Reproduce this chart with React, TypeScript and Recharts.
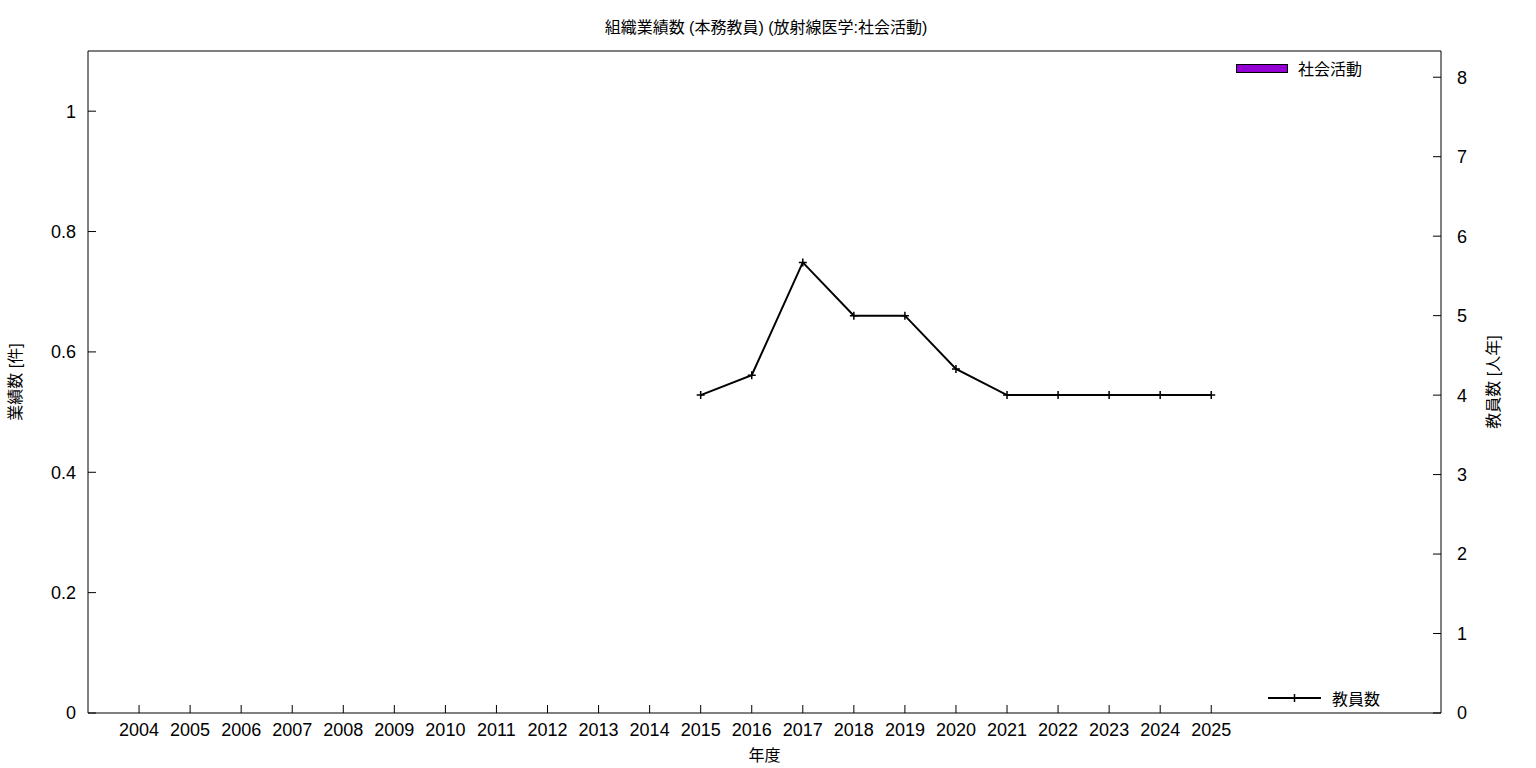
import { ComposedChart, Bar, Line, XAxis, YAxis, Legend, Label } from 'recharts';

const years = [
  2004, 2005, 2006, 2007, 2008, 2009, 2010, 2011, 2012, 2013, 2014,
  2015, 2016, 2017, 2018, 2019, 2020, 2021, 2022, 2023, 2024, 2025,
];
// 社会活動 (件) – nothing recorded in any year
const socialActivity = [0, 0, 0, 0, 0, 0, 0, 0, 0, 0, 0, 0, 0, 0, 0, 0, 0, 0, 0, 0, 0, 0];
// 教員数 (人年)
const teachers = [
  null, null, null, null, null, null, null, null, null, null, null,
  4, 4.25, 5.67, 5, 5, 4.33, 4, 4, 4, 4, 4,
];
const leftTicks = [0, 0.2, 0.4, 0.6, 0.8, 1];
const rightTicks = [0, 1, 2, 3, 4, 5, 6, 7, 8];

const data = years.map((year, i) => ({
  year,
  social: socialActivity[i],
  teachers: teachers[i],
}));

const FONT = "'Liberation Sans', 'Noto Sans CJK JP', sans-serif";
const tickStyle = { fontSize: 18, fill: '#000', fontFamily: FONT };

const PlusDot = (props: any) => {
  const { cx, cy, index } = props;
  if (cx == null || cy == null || props.value == null) return <g key={`d${index}`} />;
  return (
    <path
      key={`d${index}`}
      d={`M${cx - 4},${cy}h8M${cx},${cy - 4}v8`}
      stroke="#000"
      strokeWidth={1.5}
      fill="none"
    />
  );
};

const renderLegend = (props: any) => {
  const payload = props.payload || [];
  return (
    <div style={{ position: 'relative', width: 1536, height: 768, fontFamily: FONT, fontSize: 16 }}>
      {payload.map((item: any) =>
        item.dataKey === 'social' ? (
          <div key="social" style={{ position: 'absolute', left: 1236, top: 56, display: 'flex', alignItems: 'center' }}>
            <span style={{ display: 'inline-block', width: 50, height: 7, background: '#9400d3', border: '1px solid #000' }} />
            <span style={{ marginLeft: 10 }}>{item.value}</span>
          </div>
        ) : (
          <div key="teachers" style={{ position: 'absolute', left: 1268, top: 686, display: 'flex', alignItems: 'center' }}>
            <svg width={53} height={12}>
              <path d="M0,6h53" stroke="#000" strokeWidth={2} />
              <path d="M26.5,2v8" stroke="#000" strokeWidth={1.5} />
            </svg>
            <span style={{ marginLeft: 11 }}>{item.value}</span>
          </div>
        )
      )}
    </div>
  );
};

const verticalTitle = (text: string, dx: number) => (p: any) => {
  const vb = p.viewBox;
  const x = vb.x + dx;
  const y = vb.y + vb.height / 2;
  return (
    <text x={x} y={y} transform={`rotate(-90,${x},${y})`} textAnchor="middle" dominantBaseline="central" fontSize={16} fontFamily={FONT} fill="#000">
      {text}
    </text>
  );
};

export default function App() {
  return (
    <div style={{ position: 'absolute', left: 0, top: 0, width: 1536, height: 768, background: '#fff' }}>
      <div
        style={{
          position: 'absolute',
          left: 0,
          top: 14,
          width: 1532,
          textAlign: 'center',
          fontFamily: FONT,
          fontSize: 16,
          color: '#000',
        }}
      >
        組織業績数 (本務教員) (放射線医学:社会活動)
      </div>
      <ComposedChart
        width={1536}
        height={768}
        data={data}
        margin={{ top: 21, right: 0, bottom: 0, left: 0 }}
      >
        <XAxis
          dataKey="year"
          type="number"
          domain={[2003, 2029.5]}
          allowDataOverflow
          ticks={years}
          interval={0}
          height={55}
          stroke="#000"
          tickSize={-8}
          tickMargin={18}
          tick={tickStyle}
        >
          <Label
            content={(p: any) => {
              const vb = p.viewBox;
              return (
                <text x={vb.x + vb.width / 2} y={vb.y + 42} textAnchor="middle" dominantBaseline="central" fontSize={16} fontFamily={FONT} fill="#000">
                  年度
                </text>
              );
            }}
          />
        </XAxis>
        <XAxis
          xAxisId="top"
          dataKey="year"
          type="number"
          orientation="top"
          domain={[2003, 2029.5]}
          allowDataOverflow
          ticks={years}
          interval={0}
          height={30}
          stroke="#000"
          tickSize={-8}
          tick={false}
        />
        <YAxis
          yAxisId="left"
          domain={[0, 1.1]}
          allowDataOverflow
          ticks={leftTicks}
          interval={0}
          width={88}
          stroke="#000"
          tickSize={-8}
          tickMargin={20}
          tick={tickStyle}
        >
          <Label content={verticalTitle('業績数 [件]', 15)} />
        </YAxis>
        <YAxis
          yAxisId="right"
          orientation="right"
          domain={[0, 8.33]}
          allowDataOverflow
          ticks={rightTicks}
          interval={0}
          width={95}
          stroke="#000"
          tickSize={-8}
          tickMargin={24}
          tick={tickStyle}
        >
          <Label content={verticalTitle('教員数 [人年]', 52)} />
        </YAxis>
        <Legend
          layout="horizontal"
          verticalAlign="middle"
          align="center"
          content={renderLegend}
          wrapperStyle={{ left: 0, top: 0, width: 1536, height: 768, pointerEvents: 'none' }}
        />
        <Bar
          yAxisId="left"
          dataKey="social"
          name="社会活動"
          fill="#9400d3"
          stroke="#000"
          barSize={40}
          isAnimationActive={false}
        />
        <Line
          yAxisId="right"
          dataKey="teachers"
          name="教員数"
          stroke="#000"
          strokeWidth={2}
          dot={PlusDot}
          activeDot={false}
          isAnimationActive={false}
        />
      </ComposedChart>
    </div>
  );
}
